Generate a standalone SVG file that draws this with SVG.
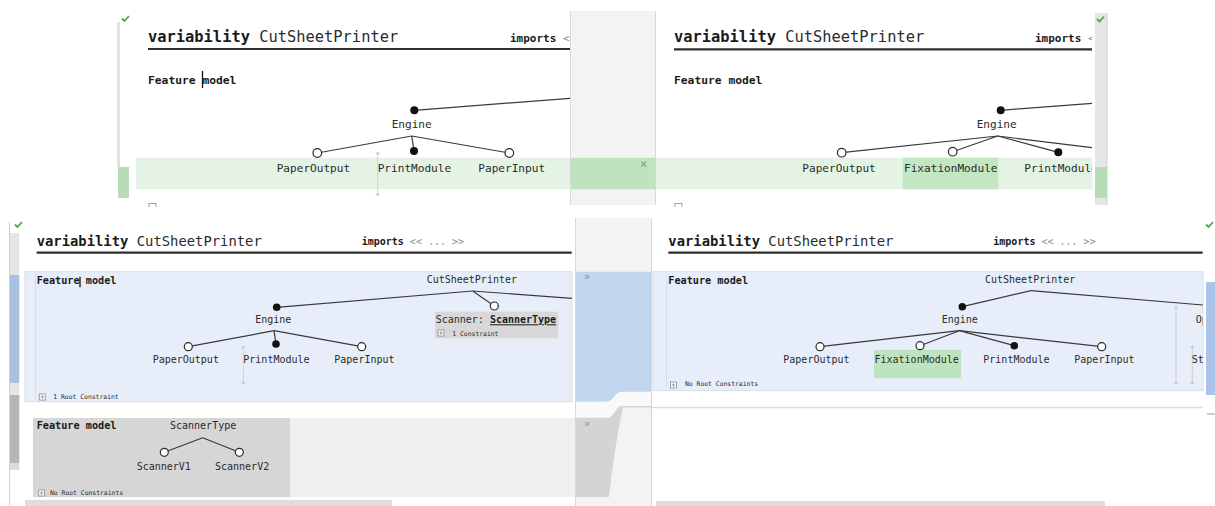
<svg xmlns="http://www.w3.org/2000/svg" width="1215" height="506" viewBox="0 0 1215 506">
<style>
.t{font-family:"DejaVu Sans Mono","Liberation Mono",monospace;fill:#2b2b2b}
.b{font-weight:bold;fill:#1a1a1a}
.g{fill:#8a8a8a}
.ln{stroke:#3a3a3a;stroke-width:1.2;fill:none}
.op{fill:#fff;stroke:#2a2a2a;stroke-width:1.2}
.fl{fill:#111}
.ul{stroke:#2e2e2e;stroke-width:2.2}
.chk{stroke:#4fa64f;stroke-width:1.8;fill:none}
.mk{stroke:#c4dcc4;stroke-width:1}
.mkg{stroke:#cfcfcf;stroke-width:1}
.tri{fill:#c8c8c8}
.pb{fill:#fff;stroke:#8a8a8a;stroke-width:0.8}
.sm{font-size:6.4px}
</style>
<defs>
<clipPath id="cTL"><rect x="117" y="11" width="453" height="196"/></clipPath>
<clipPath id="cTR"><rect x="656" y="11" width="436" height="196"/></clipPath>
<clipPath id="cBL"><rect x="20" y="218" width="552" height="288"/></clipPath>
<clipPath id="cBR"><rect x="652" y="218" width="551" height="288"/></clipPath>
</defs>
<rect width="1215" height="506" fill="#fff"/>

<!-- ===== TOP SCREENSHOT chrome ===== -->
<g id="top-chrome">
<rect x="117" y="22" width="3" height="145" fill="#e2e2e2"/>
<rect x="118" y="167" width="11" height="31" fill="#b7dcb7"/>
<rect x="136" y="157.7" width="434" height="31.6" fill="#e4f3e4"/>
<rect x="570" y="11" width="86" height="194" fill="#f3f3f3"/>
<line x1="570.5" y1="11" x2="570.5" y2="205" stroke="#dadada"/>
<line x1="655.5" y1="11" x2="655.5" y2="205" stroke="#dadada"/>
<rect x="571" y="157.7" width="84.5" height="31.6" fill="#bfe3bf"/>
<text class="t" x="640" y="168" font-size="12" fill="#7d9a7d" style="fill:#7f977f">×</text>
<rect x="656" y="157.7" width="436" height="31.6" fill="#e4f3e4"/>
<rect x="902.7" y="157.7" width="95.6" height="31.6" fill="#c3e6c3"/>
<rect x="1095" y="13" width="12" height="192" fill="#e6e6e6"/>
<line x1="1107" y1="13" x2="1107" y2="205" stroke="#cfcfcf"/>
<rect x="1095" y="167" width="12" height="31" fill="#b7dcb7"/>
<path class="chk" d="M122 18.5l2.5 2.5l4.5-5"/>
<path class="chk" d="M1097 19l2.5 2.5l4.5-5"/>
<rect class="pb" x="149" y="203.5" width="7" height="7"/>
<rect class="pb" x="675" y="203.5" width="7" height="7"/>
<rect x="0" y="207" width="1215" height="11" fill="#fff"/>
</g>

<g id="top-left-header" clip-path="url(#cTL)">
<text class="t" x="148" y="42" font-size="15.4"><tspan class="b">variability</tspan> CutSheetPrinter</text>
<line class="ul" x1="148" y1="49" x2="570" y2="49"/>
<text class="t b" x="510" y="42" font-size="11">imports <tspan class="g" font-weight="normal">&lt;&lt;</tspan></text>
<text class="t b" x="148" y="84" font-size="11.3">Feature model</text>
<line x1="202.5" y1="71" x2="202.5" y2="88" stroke="#111" stroke-width="1.3"/>
</g>
<g id="top-right-header" clip-path="url(#cTR)">
<text class="t" x="674" y="42" font-size="15.4"><tspan class="b">variability</tspan> CutSheetPrinter</text>
<line class="ul" x1="674" y1="49.3" x2="1092" y2="49.3"/>
<text class="t b" x="1035" y="42" font-size="11">imports <tspan class="g" font-weight="normal">&lt;&lt;</tspan></text>
<text class="t b" x="674" y="84" font-size="11.3">Feature model</text>
</g>

<!-- ===== BOTTOM SCREENSHOT chrome ===== -->
<g id="bottom-chrome">
<line x1="9.5" y1="222" x2="9.5" y2="506" stroke="#d4d4d4"/>
<rect x="10" y="233" width="9.3" height="42" fill="#e6e6e6"/>
<rect x="10" y="275" width="9.3" height="108" fill="#a9c0e2"/>
<rect x="10" y="383" width="9.3" height="12" fill="#e6e6e6"/>
<rect x="10" y="395" width="9.3" height="68" fill="#b6b6b6"/>
<rect x="10" y="463" width="9.3" height="7" fill="#dddddd"/>
<path class="chk" d="M15 224.5l2.5 2.5l4.5-5"/>
<rect x="25" y="271.7" width="547" height="130" fill="#e7eef9" stroke="#ccd8ee" stroke-width="0.8"/>
<line x1="35.5" y1="274" x2="35.5" y2="400" stroke="#d4deef"/>
<rect x="33" y="418" width="257" height="79" fill="#d6d6d6"/>
<rect x="290" y="418" width="285" height="79" fill="#efefef"/>
<rect x="25" y="500" width="367" height="6" fill="#dedede"/>
<rect x="575" y="218" width="77" height="288" fill="#f3f3f3"/>
<path d="M575 401.7L606 401.7C614 401.7 614 391.7 622 391.7L651.7 391.7L651.7 406L622 406C614 406 614 417.7 608 417.7L575 417.7Z" fill="#f9f9f9"/>
<path d="M575 271.7H651.7V391.7H622C614 391.7 614 401.7 606 401.7H575Z" fill="#c3d6f0"/>
<path d="M575 417.7H608C614 417.7 616 406 622 406H651.7V407.5H623C616 440 612 470 609 497H575Z" fill="#d4d4d4"/>
<line x1="575.5" y1="218" x2="575.5" y2="506" stroke="#d8d8d8"/>
<line x1="651.5" y1="218" x2="651.5" y2="506" stroke="#d8d8d8"/>
<text class="t g" x="584" y="280" font-size="10">»</text>
<text class="t g" x="584" y="427" font-size="10">»</text>
<rect x="653" y="271.7" width="550" height="119" fill="#e7eef9" stroke="#ccd8ee" stroke-width="0.8"/>
<line x1="666.5" y1="274" x2="666.5" y2="388" stroke="#d4deef"/>
<line x1="652" y1="407.5" x2="1203" y2="407.5" stroke="#dcdcdc" stroke-width="1.5"/>
<rect x="1206" y="282" width="9" height="113" fill="#aac4ea"/>
<line x1="1207" y1="414" x2="1215" y2="414" stroke="#bdbdbd" stroke-width="1.5"/>
<path class="chk" d="M1206 224.5l2.5 2.5l4.5-5"/>
<rect x="656" y="501" width="449" height="5" fill="#dedede"/>
<rect x="874" y="350" width="87" height="28.3" fill="#bfe3bf"/>
</g>

<g id="bottom-left-header" clip-path="url(#cBL)">
<text class="t" x="36.7" y="246" font-size="13.85"><tspan class="b">variability</tspan> CutSheetPrinter</text>
<line class="ul" x1="36.7" y1="252.7" x2="571.7" y2="252.7"/>
<text class="t b" x="361.7" y="245" font-size="10">imports<tspan class="g" font-weight="normal"> &lt;&lt; ... &gt;&gt;</tspan></text>
<text class="t b" x="36.7" y="284" font-size="10.2">Feature model</text>
<line x1="80" y1="276.7" x2="80" y2="287.3" stroke="#111" stroke-width="1.3"/>
<rect class="pb" x="39.3" y="394" width="6" height="6"/>
<path d="M42.3 395.2v3.6M40.5 397h3.6" stroke="#777" stroke-width="0.7"/>
<text class="t sm" x="53.3" y="398.7">1 Root Constraint</text>
<text class="t b" x="36.7" y="429.3" font-size="10.2">Feature model</text>
<rect class="pb" x="38.7" y="490" width="6" height="6"/>
<path d="M41.7 491.2v3.6M39.9 493h3.6" stroke="#777" stroke-width="0.7"/>
<text class="t sm" x="50" y="495">No Root Constraints</text>
</g>
<g id="bottom-right-header" clip-path="url(#cBR)">
<text class="t" x="668.3" y="246" font-size="13.85"><tspan class="b">variability</tspan> CutSheetPrinter</text>
<line class="ul" x1="668.3" y1="252.7" x2="1202.7" y2="252.7"/>
<text class="t b" x="993.3" y="245" font-size="10">imports<tspan class="g" font-weight="normal"> &lt;&lt; ... &gt;&gt;</tspan></text>
<text class="t b" x="668.3" y="284" font-size="10.2">Feature model</text>
<rect class="pb" x="670.4" y="382" width="6" height="6"/>
<path d="M673.4 383.2v3.6M671.6 385h3.6" stroke="#777" stroke-width="0.7"/>
<text class="t sm" x="685" y="386">No Root Constraints</text>
</g>

<!-- ===== CONNECTORS ===== -->
<g id="connectors">
<g clip-path="url(#cTL)">
<line class="ln" x1="414.3" y1="110.3" x2="570" y2="98.3"/>
<line class="ln" x1="411.7" y1="136" x2="317.3" y2="153"/>
<line class="ln" x1="411.7" y1="136" x2="414" y2="151"/>
<line class="ln" x1="411.7" y1="136" x2="509.3" y2="153"/>
<line class="mk" x1="377.7" y1="153" x2="377.7" y2="195"/>
<path class="tri" d="M375.2 152.5h5l-2.5 3z M375.2 195.5h5l-2.5-3z"/>
</g>
<g clip-path="url(#cTR)">
<line class="ln" x1="1000.7" y1="110.3" x2="1092" y2="103.3"/>
<line class="ln" x1="997.7" y1="136" x2="841.7" y2="152.7"/>
<line class="ln" x1="997.7" y1="136" x2="952.7" y2="151.7"/>
<line class="ln" x1="997.7" y1="136" x2="1058.3" y2="152.3"/>
<line class="ln" x1="997.7" y1="136" x2="1092" y2="147.7"/>
</g>
<g clip-path="url(#cBL)">
<line class="ln" x1="276.7" y1="307.3" x2="472.7" y2="291"/>
<line class="ln" x1="472.7" y1="291" x2="572" y2="298.3"/>
<line class="ln" x1="472.7" y1="291" x2="494.3" y2="306"/>
<line class="ln" x1="274" y1="330.7" x2="188.3" y2="346.7"/>
<line class="ln" x1="274" y1="330.7" x2="276" y2="344"/>
<line class="ln" x1="274" y1="330.7" x2="361.7" y2="346.7"/>
<line class="mk" x1="243.3" y1="346.7" x2="243.3" y2="383.3"/>
<path class="tri" d="M241 346.2h4.6l-2.3 2.8z M241 383.8h4.6l-2.3-2.8z"/>
<line class="ln" x1="202.7" y1="437.7" x2="164.3" y2="452.3"/>
<line class="ln" x1="202.7" y1="437.7" x2="239.3" y2="452.3"/>
</g>
<g clip-path="url(#cBR)">
<line class="ln" x1="1031" y1="290.7" x2="962.3" y2="306.7"/>
<line class="ln" x1="1031" y1="290.7" x2="1203" y2="305"/>
<line class="ln" x1="959.3" y1="330.7" x2="820" y2="346.7"/>
<line class="ln" x1="959.3" y1="330.7" x2="920" y2="345.7"/>
<line class="ln" x1="959.3" y1="330.7" x2="1014.3" y2="345.7"/>
<line class="ln" x1="959.3" y1="330.7" x2="1101.7" y2="346.7"/>
<line class="mkg" x1="1176" y1="307.3" x2="1176" y2="383.3"/>
<path class="tri" d="M1173.7 306.8h4.6l-2.3 2.8z M1173.7 383.8h4.6l-2.3-2.8z"/>
<line class="mkg" x1="1192.3" y1="346.7" x2="1192.3" y2="383.3"/>
<path class="tri" d="M1190 346.2h4.6l-2.3 2.8z M1190 383.8h4.6l-2.3-2.8z"/>
</g>
</g>

<!-- ===== NODES: top-left ===== -->
<g id="tl-engine"><circle class="fl" cx="414.3" cy="110.3" r="4"/><text class="t" x="411.7" y="128.3" font-size="11.1" text-anchor="middle">Engine</text></g>
<g id="tl-paperoutput"><circle class="op" cx="317.3" cy="153" r="4.3"/><text class="t" x="276.7" y="171.7" font-size="11.1">PaperOutput</text></g>
<g id="tl-printmodule"><circle class="fl" cx="414" cy="151" r="4"/><text class="t" x="377.7" y="171.7" font-size="11.1">PrintModule</text></g>
<g id="tl-paperinput"><circle class="op" cx="509.3" cy="153" r="4.3"/><text class="t" x="478.3" y="171.7" font-size="11.1">PaperInput</text></g>

<!-- ===== NODES: top-right ===== -->
<g id="tr-engine"><circle class="fl" cx="1000.7" cy="110.3" r="4"/><text class="t" x="996.7" y="128.3" font-size="11.1" text-anchor="middle">Engine</text></g>
<g id="tr-paperoutput"><circle class="op" cx="841.7" cy="152.7" r="4.3"/><text class="t" x="802.3" y="171.7" font-size="11.1">PaperOutput</text></g>
<g id="tr-fixationmodule"><circle class="op" cx="952.7" cy="151.7" r="4.3"/><text class="t" x="904" y="171.7" font-size="11.1">FixationModule</text></g>
<g id="tr-printmodule" clip-path="url(#cTR)"><circle class="fl" cx="1058.3" cy="152.3" r="4"/><text class="t" x="1024.3" y="171.7" font-size="11.1">PrintModule</text></g>

<!-- ===== NODES: bottom-left ===== -->
<g id="bl-cutsheetprinter"><text class="t" x="426.7" y="283.3" font-size="10">CutSheetPrinter</text></g>
<g id="bl-engine"><circle class="fl" cx="276.7" cy="307.3" r="3.8"/><text class="t" x="273.3" y="323.3" font-size="10" text-anchor="middle">Engine</text></g>
<g id="bl-paperoutput"><circle class="op" cx="188.3" cy="346.7" r="4"/><text class="t" x="152.7" y="362.7" font-size="10">PaperOutput</text></g>
<g id="bl-printmodule"><circle class="fl" cx="276" cy="344" r="3.8"/><text class="t" x="243.3" y="362.7" font-size="10">PrintModule</text></g>
<g id="bl-paperinput"><circle class="op" cx="361.7" cy="346.7" r="4"/><text class="t" x="334.3" y="362.7" font-size="10">PaperInput</text></g>
<g id="bl-scanner">
<circle class="op" cx="494.3" cy="306" r="4"/>
<rect x="435" y="311.7" width="123.3" height="26.6" fill="#d8d8d8"/>
<text class="t" x="435.7" y="323.3" font-size="10">Scanner: <tspan class="b" text-decoration="underline">ScannerType</tspan></text>
<rect class="pb" x="438" y="330" width="6" height="6"/>
<path d="M441 331.2v3.6M439.2 333h3.6" stroke="#777" stroke-width="0.7"/>
<text class="t sm" x="452.3" y="336">1 Constraint</text>
</g>
<g id="bl-scannertype"><text class="t" x="170" y="429.3" font-size="10">ScannerType</text></g>
<g id="bl-scannerv1"><circle class="op" cx="164.3" cy="452.3" r="4"/><text class="t" x="136.7" y="470" font-size="10">ScannerV1</text></g>
<g id="bl-scannerv2"><circle class="op" cx="239.3" cy="452.3" r="4"/><text class="t" x="215" y="470" font-size="10">ScannerV2</text></g>

<!-- ===== NODES: bottom-right ===== -->
<g id="br-cutsheetprinter"><text class="t" x="985" y="283.3" font-size="10">CutSheetPrinter</text></g>
<g id="br-engine"><circle class="fl" cx="962.3" cy="306.7" r="3.8"/><text class="t" x="941.7" y="323.3" font-size="10">Engine</text></g>
<g id="br-paperoutput"><circle class="op" cx="820" cy="346.7" r="4"/><text class="t" x="783.3" y="362.7" font-size="10">PaperOutput</text></g>
<g id="br-fixationmodule"><circle class="op" cx="920" cy="345.7" r="4"/><text class="t" x="874.5" y="362.7" font-size="10">FixationModule</text></g>
<g id="br-printmodule"><circle class="fl" cx="1014.3" cy="345.7" r="3.8"/><text class="t" x="983.3" y="362.7" font-size="10">PrintModule</text></g>
<g id="br-paperinput"><circle class="op" cx="1101.7" cy="346.7" r="4"/><text class="t" x="1074.3" y="362.7" font-size="10">PaperInput</text></g>
<g id="br-clipped" clip-path="url(#cBR)"><text class="t" x="1195.7" y="323.3" font-size="10">Op</text><text class="t" x="1191.7" y="362.7" font-size="10">St</text></g>
</svg>
